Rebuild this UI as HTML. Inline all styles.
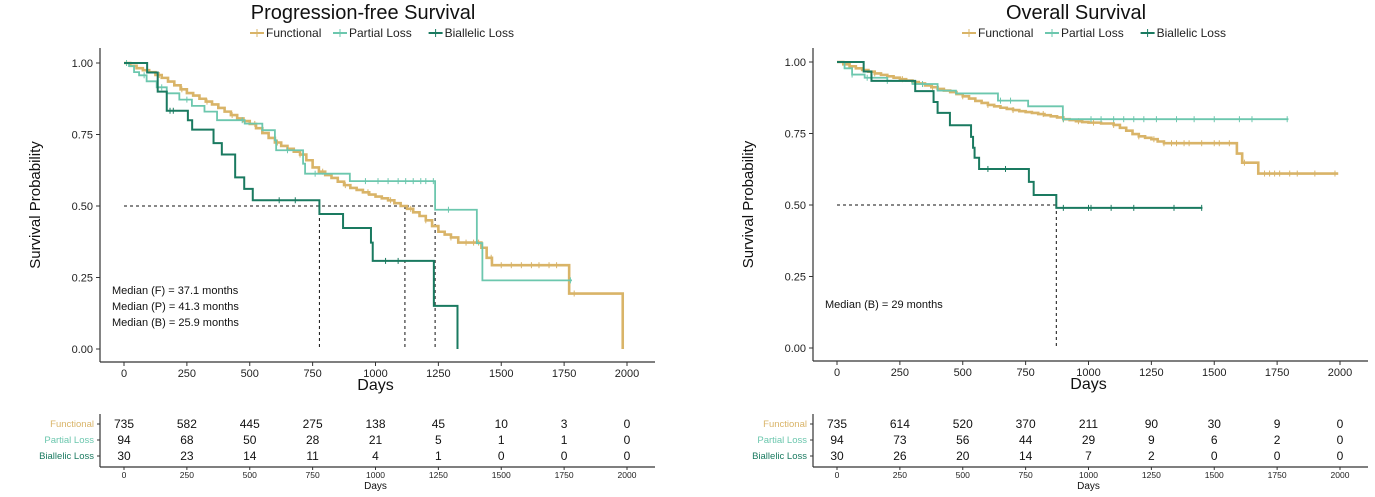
<!DOCTYPE html>
<html><head><meta charset="utf-8">
<style>
html,body{margin:0;padding:0;background:#fff;}
svg{display:block;font-family:"Liberation Sans",Arial,sans-serif;}
</style></head>
<body>
<svg id="chart" width="1375" height="497" viewBox="0 0 1375 497" xmlns="http://www.w3.org/2000/svg"></svg>
<script>
// ---------- data ----------
const xTicks = [0,250,500,750,1000,1250,1500,1750,2000];
const yTicks = [0,0.25,0.5,0.75,1.0];
const yTickLabels = ["0.00","0.25","0.50","0.75","1.00"];
const groups = ["Functional","Partial Loss","Biallelic Loss"];

// PFS step curves [time, survival]
const pfsFunctional = [[0,1],[25,0.99],[50,0.982],[75,0.975],[100,0.968],[125,0.958],[150,0.948],[175,0.935],[200,0.922],[225,0.908],[250,0.895],[275,0.886],[300,0.875],[325,0.865],[350,0.855],[375,0.843],[400,0.83],[425,0.818],[450,0.806],[475,0.797],[500,0.787],[525,0.772],[550,0.755],[575,0.738],[600,0.722],[625,0.71],[650,0.7],[675,0.69],[700,0.68],[725,0.66],[750,0.635],[775,0.62],[800,0.608],[825,0.598],[850,0.585],[875,0.573],[900,0.563],[925,0.556],[950,0.548],[975,0.54],[1000,0.533],[1025,0.527],[1050,0.52],[1075,0.51],[1100,0.5],[1125,0.49],[1150,0.478],[1175,0.465],[1200,0.45],[1225,0.43],[1250,0.41],[1275,0.4],[1300,0.39],[1329,0.372],[1421,0.354],[1442,0.319],[1463,0.293],[1770,0.194],[1983,0]];
const pfsPartial = [[0,1],[20,0.989],[40,0.968],[60,0.957],[90,0.936],[130,0.915],[170,0.894],[220,0.872],[270,0.85],[320,0.83],[370,0.8],[480,0.788],[550,0.765],[600,0.73],[605,0.695],[712,0.648],[720,0.613],[898,0.587],[1237,0.487],[1403,0.37],[1425,0.24],[1781,0.24]];
const pfsBiallelic = [[0,1],[92,0.967],[134,0.9],[170,0.833],[254,0.8],[271,0.767],[356,0.72],[389,0.68],[442,0.6],[478,0.56],[512,0.52],[777,0.472],[871,0.423],[982,0.372],[989,0.308],[1232,0.151],[1326,0]];
const pfsMedians = [777,1117,1237];
const pfsCensF = [140,230,330,430,520,610,700,790,880,970,1060,1140,1200,1300,1360,1390,1410,1460,1500,1540,1580,1620,1650,1690,1720,1790];
const pfsCensP = [10,80,150,250,470,650,760,960,1010,1050,1090,1120,1150,1180,1200,1230,1290,1775];
const pfsCensB = [183,196,617,681,1040,1090];

// OS step curves
const osFunctional = [[0,1],[25,0.992],[50,0.985],[75,0.978],[100,0.972],[125,0.966],[150,0.96],[175,0.955],[200,0.95],[225,0.945],[250,0.94],[275,0.935],[300,0.93],[325,0.925],[350,0.918],[375,0.912],[400,0.906],[425,0.9],[450,0.895],[475,0.888],[500,0.88],[525,0.872],[550,0.864],[575,0.857],[600,0.85],[625,0.845],[650,0.84],[675,0.836],[700,0.832],[725,0.828],[750,0.825],[775,0.822],[800,0.818],[825,0.814],[850,0.81],[875,0.806],[900,0.8],[925,0.797],[950,0.793],[975,0.79],[1000,0.788],[1050,0.785],[1100,0.78],[1125,0.77],[1150,0.76],[1175,0.748],[1200,0.74],[1225,0.735],[1250,0.73],[1275,0.722],[1300,0.716],[1590,0.68],[1611,0.648],[1675,0.61],[1993,0.61]];
const osPartial = [[0,1],[30,0.978],[60,0.956],[110,0.945],[200,0.934],[300,0.923],[400,0.9],[473,0.89],[640,0.865],[760,0.845],[898,0.8],[1795,0.8]];
const osBiallelic = [[0,1],[106,0.967],[137,0.934],[311,0.898],[384,0.86],[400,0.822],[449,0.779],[533,0.738],[541,0.7],[547,0.665],[565,0.626],[763,0.581],[782,0.535],[872,0.49],[1453,0.49]];
const osMedians = [872];
const osCensF = [150,260,380,500,600,700,820,900,960,1020,1100,1200,1260,1300,1330,1350,1380,1400,1450,1500,1520,1560,1620,1700,1720,1740,1760,1800,1830,1900,1980];
const osCensP = [60,120,200,340,650,690,900,1010,1050,1100,1140,1180,1220,1270,1350,1420,1500,1600,1650,1790];
const osCensB = [600,670,900,1000,1010,1090,1180,1340,1450];

// risk tables
const pfsRisk = [[735,582,445,275,138,45,10,3,0],[94,68,50,28,21,5,1,1,0],[30,23,14,11,4,1,0,0,0]];
const osRisk = [[735,614,520,370,211,90,30,9,0],[94,73,56,44,29,9,6,2,0],[30,26,20,14,7,2,0,0,0]];

const colors = ["#d9b468","#6cc7ae","#1a7a60"];
const widths = [2.6,1.8,2];
const NS = "http://www.w3.org/2000/svg";
const svg = document.getElementById("chart");
function mk(tag, attrs, parent, text){
  const e = document.createElementNS(NS, tag);
  for (const k in attrs) e.setAttribute(k, attrs[k]);
  if (text !== undefined) e.textContent = text;
  (parent||svg).appendChild(e);
  return e;
}

function panel(o){
  const g = mk("g",{});
  
  
  const X = t => o.x0 + t*(o.x1-o.x0)/2000;
  const Y = s => o.yb - s*(o.yb-o.yt);
  const ti = mk("text",{x:o.tx,y:19,"text-anchor":"middle","font-size":20,fill:"#111"},g,o.title);
  
  
  let lx = o.lx;
  groups.forEach((nm,i)=>{
    const le = mk("g",{},g);
    
    
    mk("line",{x1:lx,y1:33,x2:lx+14,y2:33,stroke:colors[i],"stroke-width":2},le);
    mk("line",{x1:lx+7,y1:29,x2:lx+7,y2:37,stroke:colors[i],"stroke-width":1},le);
    mk("text",{x:lx+16,y:37,"font-size":12,fill:"#222"},le,nm);
    lx += 16 + (nm.length*6.3) + 4;
  });
  const ax = mk("g",{},g);
  
  
  mk("line",{x1:o.ax,y1:48,x2:o.ax,y2:o.axy,stroke:"#333","stroke-width":1.2},ax);
  mk("line",{x1:o.ax,y1:o.axy,x2:o.ax+555,y2:o.axy,stroke:"#333","stroke-width":1.2},ax);
  yTicks.forEach((v,i)=>{
    mk("line",{x1:o.ax-4,y1:Y(v),x2:o.ax,y2:Y(v),stroke:"#333"},ax);
    mk("text",{x:o.ax-7,y:Y(v)+4,"text-anchor":"end","font-size":11,fill:"#222"},ax,yTickLabels[i]);
  });
  xTicks.forEach(v=>{
    mk("line",{x1:X(v),y1:o.axy,x2:X(v),y2:o.axy+4,stroke:"#333"},ax);
    mk("text",{x:X(v),y:o.axy+15,"text-anchor":"middle","font-size":11,fill:"#222"},ax,v);
  });
  const yt = mk("text",{x:0,y:0,"text-anchor":"middle","font-size":15,fill:"#111",transform:`translate(${o.ax-60},${(48+o.axy)/2}) rotate(-90)`},g,"Survival Probability");
  
  
  const xt = mk("text",{x:X(1000),y:o.axy+28,"text-anchor":"middle","font-size":16,fill:"#111"},g,"Days");
  
  
  o.medians.forEach(m=>{
    mk("line",{x1:X(m),y1:Y(0.5),x2:X(m),y2:Y(0),stroke:"#111","stroke-dasharray":"3,3","stroke-width":1},g);
  });
  mk("line",{x1:X(0),y1:Y(0.5),x2:X(Math.max(...o.medians)),y2:Y(0.5),stroke:"#111","stroke-dasharray":"3,3","stroke-width":1},g);
  o.curves.forEach((c,i)=>{
    let d = `M${X(c[0][0])},${Y(c[0][1])}`;
    for (let k=1;k<c.length;k++){ d += ` H${X(c[k][0])} V${Y(c[k][1])}`; }
    const p = mk("path",{d:d,fill:"none",stroke:colors[i],"stroke-width":widths[i]},g);
    
    
    const sAt = t => { let s=c[0][1]; for (const q of c){ if (q[0]<=t) s=q[1]; } return s; };
    o.cens[i].forEach(t=>{
      const y = Y(sAt(t));
      mk("line",{x1:X(t),y1:y-3,x2:X(t),y2:y+3,stroke:colors[i],"stroke-width":1},g);
    });
  });
  o.medText.forEach((s,i)=>{
    mk("text",{x:o.ax+12,y:o.medY+i*16,"font-size":11,fill:"#111"},g,s);
  });
  const rt = mk("g",{},g);
  
  
  mk("line",{x1:o.ax,y1:414,x2:o.ax,y2:467,stroke:"#333","stroke-width":1.2},rt);
  mk("line",{x1:o.ax,y1:467,x2:o.ax+555,y2:467,stroke:"#333","stroke-width":1.2},rt);
  groups.forEach((nm,i)=>{
    const yy = 428 + i*16;
    mk("text",{x:o.ax-6,y:yy-1,"text-anchor":"end","font-size":9.5,fill:colors[i]},rt,nm);
    mk("line",{x1:o.ax-3,y1:yy-4,x2:o.ax,y2:yy-4,stroke:"#333"},rt);
    o.risk[i].forEach((n,j)=>{
      mk("text",{x:X(xTicks[j]),y:yy,"text-anchor":"middle","font-size":12,fill:"#111"},rt,n);
    });
  });
  xTicks.forEach(v=>{
    mk("line",{x1:X(v),y1:467,x2:X(v),y2:470,stroke:"#333"},rt);
    mk("text",{x:X(v),y:478,"text-anchor":"middle","font-size":8.5,fill:"#222"},rt,v);
  });
  mk("text",{x:X(1000),y:489,"text-anchor":"middle","font-size":10,fill:"#111"},rt,"Days");
}

panel({name:"pfs-panel",title:"Progression-free Survival",tx:363,lx:250,ax:100,axy:362,x0:124,x1:627,yt:63,yb:349,
  curves:[pfsFunctional,pfsPartial,pfsBiallelic],cens:[pfsCensF,pfsCensP,pfsCensB],medians:pfsMedians,
  medText:["Median (F) = 37.1 months","Median (P) = 41.3 months","Median (B) = 25.9 months"],medY:294,risk:pfsRisk});
panel({name:"os-panel",title:"Overall Survival",tx:1076,lx:962,ax:813,axy:361,x0:837,x1:1340,yt:62,yb:348,
  curves:[osFunctional,osPartial,osBiallelic],cens:[osCensF,osCensP,osCensB],medians:osMedians,
  medText:["Median (B) = 29 months"],medY:308,risk:osRisk});
</script>
</body></html>
